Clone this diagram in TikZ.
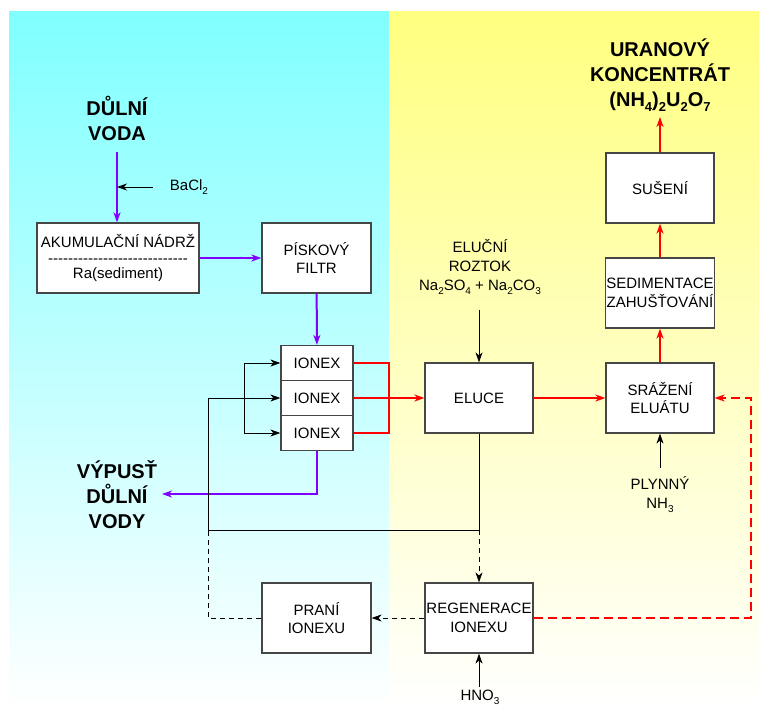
\documentclass[tikz,border=0pt]{standalone}
\usepackage{fontspec}
\setmainfont{Liberation Sans}
\usetikzlibrary{arrows.meta}
\definecolor{watercyan}{RGB}{128,255,255}
\definecolor{uranyellow}{RGB}{255,255,128}
\definecolor{waterline}{RGB}{128,0,255}
\definecolor{boxline}{RGB}{70,70,70}
\newcommand{\chsub}[2][10]{\raisebox{-0.5ex}{\fontsize{#1}{#1}\selectfont #2}}
\tikzset{
  stage/.style={draw=boxline, line width=1.2pt, fill=white, minimum width=108pt,
    minimum height=70pt, align=center, inner sep=1pt, font=\fontsize{15}{18.5}\selectfont},
  ionexbox/.style={stage, minimum width=72pt, minimum height=35pt},
  headtext/.style={align=center, font=\bfseries\fontsize{20}{25}\selectfont},
  chemtext/.style={align=center, font=\fontsize{15}{19}\selectfont},
  water/.style={->, draw=waterline, line width=2pt},
  uran/.style={->, draw=red, line width=2pt},
  feed/.style={->, draw=black, line width=0.8pt},
  >={Stealth[length=10pt,width=7pt,inset=3pt]}
}

\begin{document}
\begin{tikzpicture}[x=1pt, y=-1pt]
\useasboundingbox (0,0) rectangle (759,709);
% background halves
\fill[top color=watercyan, bottom color=white] (9,12) rectangle (389,709);
\fill[top color=uranyellow, bottom color=white] (389,12) rectangle (759,709);

% water side
\node[headtext] (voda) at (117,118) {DŮLNÍ\\VODA};
\node[chemtext] (bacl) at (189,187) {BaCl\chsub{2}};
\node[stage, minimum width=162pt] (tank) at (118,258) {AKUMULAČNÍ NÁDRŽ\\[-3pt]
  \hbox to 141pt{\cleaders\hbox{-}\hfil}\\[-3pt] Ra(sediment)};
\node[stage, minimum width=109pt] (filter) at (316.5,258) {PÍSKOVÝ\\FILTR};
\node[ionexbox] (ionex1) at (317,363) {IONEX};
\node[ionexbox] (ionex2) at (317,398) {IONEX};
\node[ionexbox] (ionex3) at (317,433) {IONEX};
\node[headtext] (outlet) at (117,495) {VÝPUSŤ\\DŮLNÍ\\VODY};
\node[stage, minimum width=109pt] (rinse) at (316.5,618) {PRANÍ\\IONEXU};

% uranium side
\node[chemtext] (eluent) at (480,267) {ELUČNÍ\\ROZTOK\\Na\chsub{2}SO\chsub{4} + Na\chsub{2}CO\chsub{3}};
\node[stage] (eluce) at (479,398) {ELUCE};
\node[stage] (precip) at (660,398) {SRÁŽENÍ\\ELUÁTU};
\node[stage] (sediment) at (660,293) {SEDIMENTACE\\ZAHUŠŤOVÁNÍ};
\node[stage] (drying) at (660,188) {SUŠENÍ};
\node[headtext] (product) at (660,75) {URANOVÝ\\KONCENTRÁT\\(NH\chsub[13]{4})\chsub[13]{2}U\chsub[13]{2}O\chsub[13]{7}};
\node[chemtext] (ammonia) at (660,495) {PLYNNÝ\\NH\chsub{3}};
\node[stage] (regen) at (479,618) {REGENERACE\\IONEXU};
\node[chemtext] (nitric) at (480,697) {HNO\chsub{3}};

\coordinate (waterin) at (117,152);
\coordinate (baclin) at (153,187);
\coordinate (baclend) at (117,187);
\coordinate (outletend) at (162,494);
\coordinate (ionexjoin) at (389,398);
\coordinate (bypass) at (244,398);
\coordinate (rinsecorner) at (208,530);
\coordinate (split) at (479,530);
\coordinate (eluentin) at (479,310);
\coordinate (productin) at (660,117);
\coordinate (ammoniain) at (660,468);
\coordinate (nitricin) at (479,687);
\coordinate (loopcorner) at (751,398);

% mine water
\draw[water] (waterin) -- (waterin |- tank.north);
\draw[feed] (baclin) -- (baclend);
\draw[water] (tank) -- (filter);
\draw[water] (filter) -- (ionex1);
\draw[water] (ionex3.south) |- (outletend);

% ionex feeds
\draw[feed] (bypass) |- (ionex1.west);
\draw[feed] (bypass) |- (ionex3.west);
\draw[feed] (rinsecorner) |- (ionex2.west);
\draw[black, line width=0.8pt] (eluce.south) -- (split) -- (rinsecorner);
\draw[feed, dash pattern=on 5pt off 4pt] (split) -- (regen.north);
\draw[feed, dash pattern=on 5pt off 4pt] (regen) -- (rinse);
\draw[black, line width=0.8pt, dash pattern=on 5pt off 4pt] (rinse.west) -| (rinsecorner);

% uranium line
\draw[uran, -] (ionex1.east) -| (ionexjoin);
\draw[uran, -] (ionex3.east) -| (ionexjoin);
\draw[uran] (ionex2.east) -- (eluce.west);
\draw[uran] (eluce) -- (precip);
\draw[uran] (precip) -- (sediment);
\draw[uran] (sediment) -- (drying);
\draw[uran] (drying) -- (productin);
\draw[uran, dash pattern=on 9pt off 5pt] (regen.east) -| (loopcorner) -- (precip.east);

% reagents
\draw[feed] (eluentin) -- (eluce.north);
\draw[feed] (ammoniain) -- (precip.south);
\draw[feed] (nitricin) -- (regen.south);
\end{tikzpicture}
\end{document}
